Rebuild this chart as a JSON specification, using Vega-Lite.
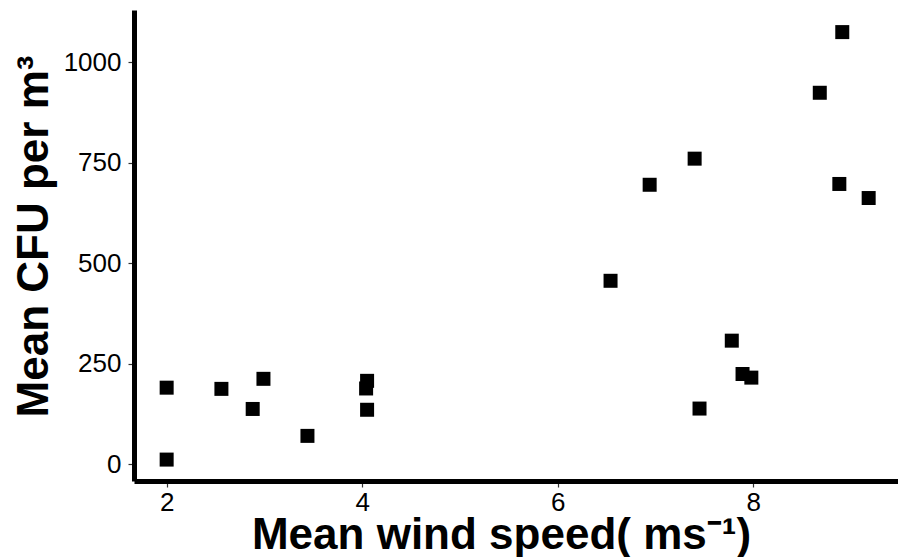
{
  "$schema": "https://vega.github.io/schema/vega-lite/v6.json",
  "width": 764,
  "height": 471,
  "autosize": {"type": "none"},
  "padding": {"left": 134, "top": 10, "right": 0, "bottom": 76},
  "background": "white",
  "config": {
    "view": {"stroke": null},
    "font": "Liberation Sans",
    "axis": {
      "grid": false,
      "domainColor": "black",
      "domainWidth": 5,
      "tickColor": "#333333",
      "tickWidth": 1.2,
      "tickSize": 6,
      "labelFont": "Liberation Sans",
      "labelFontSize": 26,
      "labelColor": "black",
      "titleFont": "Liberation Sans",
      "titleFontSize": 44,
      "titleFontWeight": "bold",
      "titleColor": "black"
    }
  },
  "data": {
    "values": [
      {"wind": 2.0, "cfu": 190},
      {"wind": 2.0, "cfu": 11},
      {"wind": 2.56, "cfu": 187},
      {"wind": 2.99, "cfu": 212},
      {"wind": 2.88, "cfu": 137},
      {"wind": 3.44, "cfu": 70},
      {"wind": 4.05, "cfu": 207},
      {"wind": 4.04, "cfu": 188},
      {"wind": 4.05, "cfu": 135},
      {"wind": 6.54, "cfu": 456},
      {"wind": 6.94, "cfu": 695},
      {"wind": 7.40, "cfu": 760},
      {"wind": 7.45, "cfu": 138},
      {"wind": 7.78, "cfu": 307},
      {"wind": 7.89, "cfu": 224},
      {"wind": 7.98, "cfu": 215},
      {"wind": 8.68, "cfu": 924},
      {"wind": 8.91, "cfu": 1075},
      {"wind": 8.88, "cfu": 697},
      {"wind": 9.18, "cfu": 662}
    ]
  },
  "mark": {"type": "point", "shape": "square", "filled": true, "size": 196, "color": "black", "opacity": 1, "strokeWidth": 0},
  "encoding": {
    "x": {
      "field": "wind",
      "type": "quantitative",
      "scale": {"domain": [1.666, 9.48], "nice": false, "zero": false},
      "axis": {
        "values": [2, 4, 6, 8],
        "format": "d",
        "title": "Mean wind speed( ms⁻¹)",
        "labelPadding": 2,
        "titleX": 367,
        "titleY": 67,
        "titleAlign": "center",
        "titleBaseline": "alphabetic",
        "titleAnchor": null
      }
    },
    "y": {
      "field": "cfu",
      "type": "quantitative",
      "scale": {"domain": [-42.3, 1130], "nice": false, "zero": false},
      "axis": {
        "values": [0, 250, 500, 750, 1000],
        "format": "d",
        "title": "Mean CFU per m³",
        "labelPadding": 7,
        "titleX": -87,
        "titleY": 226,
        "titleAngle": -90,
        "titleAlign": "center",
        "titleBaseline": "alphabetic",
        "titleAnchor": null
      }
    }
  }
}
